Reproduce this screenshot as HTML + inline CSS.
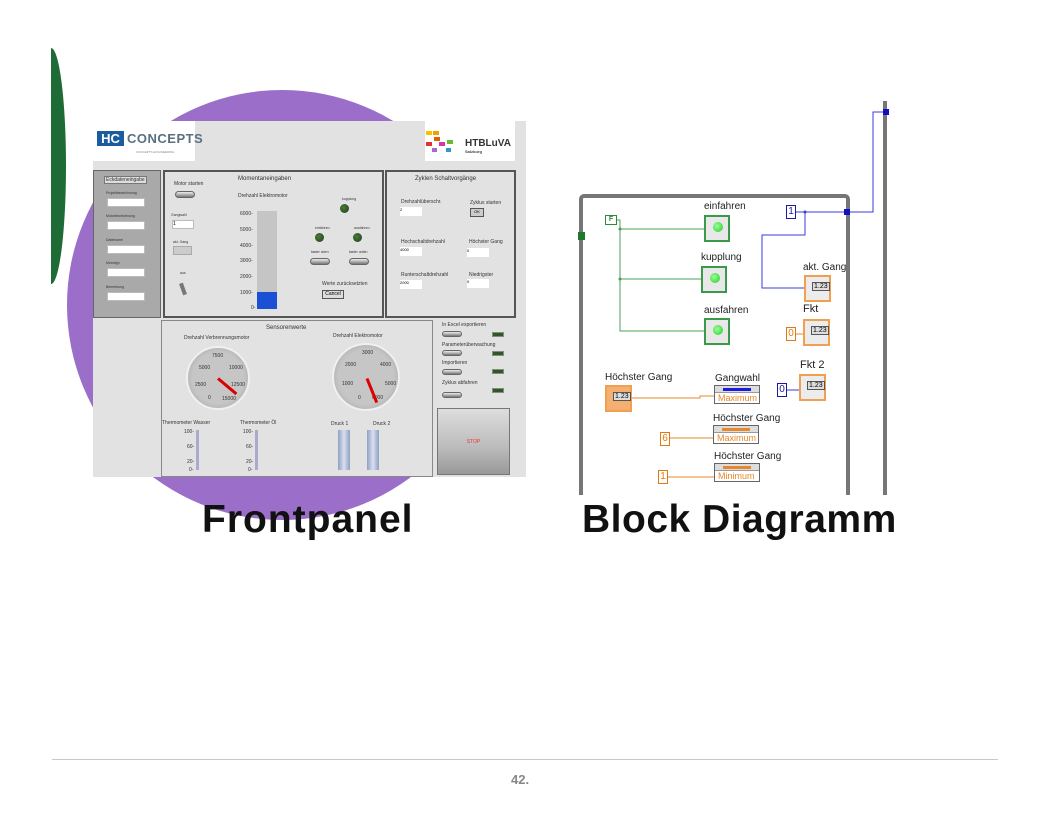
<!DOCTYPE html>
<html><head><meta charset="utf-8"><style>
*{margin:0;padding:0;box-sizing:border-box}
body{width:1056px;height:816px;background:#fff;position:relative;overflow:hidden;font-family:"Liberation Sans",sans-serif}
.a{position:absolute}
.t{position:absolute;font-size:5px;color:#333;white-space:nowrap}
.in{position:absolute;background:#fff;border:1px solid #bbb}
.sw{position:absolute;width:20px;height:7px;border-radius:4px;background:linear-gradient(#eee,#777);border:1px solid #666}
.led{position:absolute;width:9px;height:9px;border-radius:50%;background:radial-gradient(circle at 40% 40%,#4a7a3a,#1e3d16)}
.gl{position:absolute;width:12px;height:5px;background:#2c5a22;border:1px solid #888}
.bd{position:absolute;font-size:10px;color:#222;white-space:nowrap}
.gn{position:absolute;border:2px solid #3a9a4a;background:#e8e8e8;width:26px;height:27px}
.gn:after{content:"";position:absolute;left:7px;top:5px;width:10px;height:10px;border-radius:50%;background:radial-gradient(circle at 40% 40%,#9f9,#2c2)}
.on{position:absolute;border:2px solid #f0a050;background:#ececec;width:27px;height:27px}
.on:after{content:"1.23";position:absolute;left:6px;top:5px;font-size:7px;border:1px solid #555;padding:0 1px;background:#ddd}
.oc{position:absolute;border:1.5px solid #e07a10;color:#e07a10;font-size:10px;width:10px;height:14px;text-align:center;line-height:12px;background:#fff}
.bc{position:absolute;border:1.5px solid #1a1aa0;color:#1a1aa0;font-size:10px;width:10px;height:14px;text-align:center;line-height:12px;background:#fff}
.pb{position:absolute;width:46px;height:19px;border:1px solid #666;background:#fff}
.pb .h{height:7px;background:#ddd;border-bottom:1px solid #999;position:relative}
.pb .h i{position:absolute;left:8px;right:8px;top:2px;height:3px}
.pb .m{font-size:9px;color:#e8882a;padding-left:3px;line-height:11px}
</style></head><body>
<div class="a" style="left:51px;top:48px;width:15px;height:236px;background:#1f6b35;border-radius:0 100% 100% 0/0 50% 50% 0"></div>
<div class="a" style="left:67px;top:90px;width:430px;height:430px;border-radius:50%;background:#9b6fc9"></div>
<div class="a" style="left:93px;top:121px;width:433px;height:356px;background:#e2e2e2"></div>
<div class="a" style="left:93px;top:121px;width:102px;height:40px;background:#fff"></div>
<div class="a" style="left:97px;top:131px;width:27px;height:15px;background:#1a5c9e;color:#fff;font-weight:bold;font-size:13px;line-height:15px;text-align:center">HC</div>
<div class="a" style="left:127px;top:131px;font-size:13px;font-weight:bold;color:#5a6f80;letter-spacing:0.5px">CONCEPTS</div>
<div class="a" style="left:136px;top:150px;font-size:3px;color:#888">CONCEPTS ENGINEERING</div>
<div class="a" style="left:425px;top:121px;width:90px;height:40px;background:#fff"></div>
<div class="a" style="left:426px;top:131px;width:6px;height:4px;background:#f5c400"></div>
<div class="a" style="left:433px;top:131px;width:6px;height:4px;background:#f5a000"></div>
<div class="a" style="left:434px;top:137px;width:6px;height:4px;background:#e06000"></div>
<div class="a" style="left:426px;top:142px;width:6px;height:4px;background:#d33"></div>
<div class="a" style="left:439px;top:142px;width:6px;height:4px;background:#d3a"></div>
<div class="a" style="left:447px;top:140px;width:6px;height:4px;background:#6b3"></div>
<div class="a" style="left:432px;top:148px;width:5px;height:4px;background:#a6c"></div>
<div class="a" style="left:446px;top:148px;width:5px;height:4px;background:#39c"></div>
<div class="a" style="left:465px;top:138px;font-size:10px;font-weight:bold;color:#333">HTBLuVA</div>
<div class="a" style="left:465px;top:149px;font-size:4px;font-weight:bold;color:#444">Salzburg</div>
<div class="a" style="left:93px;top:170px;width:68px;height:148px;background:#a9a9a9;border:1px solid #666"></div>
<div class="t" style="left:104px;top:176px;background:#ddd;border:1px solid #777;padding:0 1px">Eckdateneingabe</div>
<div class="t" style="left:106px;top:191px;font-size:3.5px">Projektbezeichnung</div><div class="in" style="left:107px;top:198px;width:38px;height:9px"></div>
<div class="t" style="left:106px;top:214px;font-size:3.5px">Motorbezeichnung</div><div class="in" style="left:107px;top:221px;width:38px;height:9px"></div>
<div class="t" style="left:106px;top:238px;font-size:3.5px">Dateiname</div><div class="in" style="left:107px;top:245px;width:38px;height:9px"></div>
<div class="t" style="left:106px;top:261px;font-size:3.5px">Motortyp</div><div class="in" style="left:107px;top:268px;width:38px;height:9px"></div>
<div class="t" style="left:106px;top:285px;font-size:3.5px">Bemerkung</div><div class="in" style="left:107px;top:292px;width:38px;height:9px"></div>
<div class="a" style="left:163px;top:170px;width:221px;height:148px;border:2px solid #555"></div>
<div class="t" style="left:238px;top:176px;font-size:6px">Momentaneingaben</div>
<div class="t" style="left:174px;top:181px">Motor starten</div>
<div class="sw" style="left:175px;top:191px"></div>
<div class="t" style="left:238px;top:193px">Drehzahl Elektromotor</div>
<div class="t" style="left:171px;top:213px;font-size:3.5px">Gangwahl</div><div class="in" style="left:172px;top:220px;width:22px;height:9px;font-size:5px">1</div>
<div class="t" style="left:173px;top:240px;font-size:3.5px">akt. Gang</div><div class="a" style="left:173px;top:246px;width:19px;height:9px;background:#ccc;border:1px solid #aaa"></div>
<div class="t" style="left:180px;top:271px;font-size:3.5px">aus</div>
<div class="a" style="left:181px;top:283px;width:4px;height:12px;background:#777;transform:rotate(-20deg)"></div>
<div class="t" style="left:240px;top:211px">6000-</div><div class="t" style="left:240px;top:227px">5000-</div><div class="t" style="left:240px;top:243px">4000-</div><div class="t" style="left:240px;top:258px">3000-</div><div class="t" style="left:240px;top:274px">2000-</div><div class="t" style="left:240px;top:290px">1000-</div><div class="t" style="left:251px;top:305px">0-</div>
<div class="a" style="left:257px;top:211px;width:20px;height:97px;background:#c5c5c5"></div>
<div class="a" style="left:257px;top:292px;width:20px;height:17px;background:#1a4fd6"></div>
<div class="t" style="left:342px;top:197px;font-size:3.5px">kupplung</div><div class="led" style="left:340px;top:204px"></div>
<div class="t" style="left:315px;top:226px;font-size:3.5px">einfahren</div><div class="led" style="left:315px;top:233px"></div>
<div class="t" style="left:354px;top:226px;font-size:3.5px">ausfahren</div><div class="led" style="left:353px;top:233px"></div>
<div class="t" style="left:311px;top:250px;font-size:3.5px">taster oben</div><div class="sw" style="left:310px;top:258px"></div>
<div class="t" style="left:349px;top:250px;font-size:3.5px">taster unten</div><div class="sw" style="left:349px;top:258px"></div>
<div class="t" style="left:322px;top:281px">Werte zurücksetzten</div>
<div class="a" style="left:322px;top:290px;width:22px;height:9px;background:#ddd;border:1px solid #555;font-size:5px;text-align:center">Cancel</div>
<div class="a" style="left:385px;top:170px;width:131px;height:148px;border:2px solid #555"></div>
<div class="t" style="left:415px;top:176px;font-size:6px">Zyklen Schaltvorgänge</div>
<div class="t" style="left:401px;top:199px">Drehzahlüberschr.</div><div class="in" style="left:400px;top:207px;width:22px;height:9px;border:none;font-size:4px">2</div>
<div class="t" style="left:470px;top:200px">Zyklus starten</div>
<div class="a" style="left:470px;top:208px;width:14px;height:9px;background:#ccc;border:1px solid #555;font-size:4px;text-align:center">OK</div>
<div class="t" style="left:401px;top:239px">Hochschaltdrehzahl</div><div class="in" style="left:400px;top:247px;width:22px;height:9px;border:none;font-size:4px">4000</div>
<div class="t" style="left:469px;top:239px">Höchster Gang</div><div class="in" style="left:467px;top:248px;width:22px;height:9px;border:none;font-size:4px">0</div>
<div class="t" style="left:401px;top:272px">Runterschaltdrehzahl</div><div class="in" style="left:400px;top:280px;width:22px;height:9px;border:none;font-size:4px">2000</div>
<div class="t" style="left:469px;top:272px">Niedrigster</div><div class="in" style="left:467px;top:279px;width:22px;height:9px;border:none;font-size:4px">0</div>
<div class="a" style="left:161px;top:320px;width:272px;height:157px;border:1px solid #888"></div>
<div class="t" style="left:266px;top:325px;font-size:6px">Sensorenwerte</div>
<div class="t" style="left:184px;top:335px">Drehzahl Verbrennungsmotor</div>
<div class="t" style="left:333px;top:333px">Drehzahl Elektromotor</div>
<div class="a" style="left:186px;top:346px;width:64px;height:64px;border-radius:50%;background:radial-gradient(#c6c6c6 60%,#9a9a9a);border:2px solid #f0f0f0"></div>
<div class="a" style="left:332px;top:343px;width:68px;height:68px;border-radius:50%;background:radial-gradient(#c6c6c6 60%,#9a9a9a);border:2px solid #f0f0f0"></div>
<div class="t" style="left:212px;top:353px">7500</div><div class="t" style="left:199px;top:365px">5000</div><div class="t" style="left:229px;top:365px">10000</div><div class="t" style="left:195px;top:382px">2500</div><div class="t" style="left:231px;top:382px">12500</div><div class="t" style="left:208px;top:395px">0</div><div class="t" style="left:222px;top:396px">15000</div>
<div class="t" style="left:362px;top:350px">3000</div><div class="t" style="left:345px;top:362px">2000</div><div class="t" style="left:380px;top:362px">4000</div><div class="t" style="left:342px;top:381px">1000</div><div class="t" style="left:385px;top:381px">5000</div><div class="t" style="left:358px;top:395px">0</div><div class="t" style="left:372px;top:395px">6000</div>
<div class="a" style="left:218px;top:377px;width:24px;height:3px;background:#d00;transform-origin:0 50%;transform:rotate(40deg)"></div>
<div class="a" style="left:367px;top:377px;width:26px;height:3px;background:#d00;transform-origin:0 50%;transform:rotate(68deg)"></div>
<div class="t" style="left:162px;top:420px">Thermometer Wasser</div><div class="t" style="left:240px;top:420px">Thermometer Öl</div>
<div class="t" style="left:331px;top:421px">Druck 1</div><div class="t" style="left:373px;top:421px">Druck 2</div>
<div class="t" style="left:184px;top:429px">100-</div><div class="t" style="left:187px;top:444px">60-</div><div class="t" style="left:187px;top:459px">20-</div><div class="t" style="left:189px;top:467px">0-</div>
<div class="a" style="left:196px;top:430px;width:3px;height:40px;background:#aac"></div>
<div class="t" style="left:243px;top:429px">100-</div><div class="t" style="left:246px;top:444px">60-</div><div class="t" style="left:246px;top:459px">20-</div><div class="t" style="left:248px;top:467px">0-</div>
<div class="a" style="left:255px;top:430px;width:3px;height:40px;background:#aac"></div>
<div class="a" style="left:338px;top:430px;width:12px;height:40px;background:linear-gradient(90deg,#8fa0c0,#d8dff0,#8fa0c0)"></div>
<div class="a" style="left:367px;top:430px;width:12px;height:40px;background:linear-gradient(90deg,#8fa0c0,#d8dff0,#8fa0c0)"></div>
<div class="t" style="left:442px;top:322px">In Excel exportieren</div><div class="sw" style="left:442px;top:331px;height:6px"></div><div class="gl" style="left:492px;top:332px"></div>
<div class="t" style="left:442px;top:342px">Parameterüberwachung</div><div class="sw" style="left:442px;top:350px;height:6px"></div><div class="gl" style="left:492px;top:351px"></div>
<div class="t" style="left:442px;top:360px">Importieren</div><div class="sw" style="left:442px;top:369px;height:6px"></div><div class="gl" style="left:492px;top:369px"></div>
<div class="t" style="left:442px;top:380px">Zyklus abfahren</div><div class="sw" style="left:442px;top:392px;height:6px"></div><div class="gl" style="left:492px;top:388px"></div>
<div class="a" style="left:437px;top:408px;width:73px;height:67px;background:linear-gradient(#ddd,#bbb 60%,#999);border:1px solid #777;color:#e33;font-size:5px;text-align:center;line-height:67px">STOP</div>

<div class="a" style="left:579px;top:194px;width:271px;height:320px;border:4px solid #767676;border-radius:5px"></div>
<div class="a" style="left:579px;top:495px;width:320px;height:30px;background:#fff"></div>
<div class="a" style="left:883px;top:101px;width:4px;height:394px;background:#767676"></div>
<div class="a" style="left:578px;top:232px;width:7px;height:8px;background:#1b7a2b"></div>
<div class="a" style="left:605px;top:215px;width:12px;height:10px;border:1.5px solid #2a8a3a;font-size:7px;color:#2a8a3a;text-align:center;line-height:7px;font-weight:bold">F</div>
<svg class="a" style="left:0;top:0" width="1056" height="816">
<g stroke="#4aa05a" fill="none" stroke-width="1">
<path d="M617 220H620V331H705M620 229H705M620 279H702"/></g>
<g fill="#4aa05a"><circle cx="620" cy="229" r="1.5"/><circle cx="620" cy="279" r="1.5"/></g>
<g stroke="#3a3ae0" fill="none" stroke-width="1">
<path d="M795 212H873V112H886M805 212V235H762V288H805"/></g>
<circle cx="805" cy="212" r="1.5" fill="#3a3ae0"/>
<rect x="844" y="209" width="6" height="6" fill="#1010c0"/>
<rect x="883" y="109" width="6" height="6" fill="#1010c0"/>
<g stroke="#e8882a" fill="none" stroke-width="1">
<path d="M632 398H700V396H714M669 438H714M667 477H714M795 334H804"/></g>
<path d="M786 390H799" stroke="#3a3ae0"/>
</svg>
<div class="bd" style="left:704px;top:201px">einfahren</div><div class="gn" style="left:704px;top:215px"></div>
<div class="bd" style="left:701px;top:252px">kupplung</div><div class="gn" style="left:701px;top:266px"></div>
<div class="bd" style="left:704px;top:305px">ausfahren</div><div class="gn" style="left:704px;top:318px"></div>
<div class="bc" style="left:786px;top:205px">1</div>
<div class="bd" style="left:803px;top:262px">akt. Gang</div><div class="on" style="left:804px;top:275px"></div>
<div class="bd" style="left:803px;top:303px;font-size:11px">Fkt</div><div class="on" style="left:803px;top:319px"></div>
<div class="oc" style="left:786px;top:327px">0</div>
<div class="bd" style="left:800px;top:359px;font-size:11px">Fkt 2</div><div class="on" style="left:799px;top:374px"></div>
<div class="bc" style="left:777px;top:383px">0</div>
<div class="bd" style="left:605px;top:372px">Höchster Gang</div>
<div class="on" style="left:605px;top:385px;background:#f4b070"></div>
<div class="bd" style="left:715px;top:373px">Gangwahl</div>
<div class="pb" style="left:714px;top:385px"><div class="h"><i style="background:#1a1ae0"></i></div><div class="m">Maximum</div></div>
<div class="bd" style="left:713px;top:413px">Höchster Gang</div>
<div class="pb" style="left:713px;top:425px"><div class="h"><i style="background:#e8882a"></i></div><div class="m">Maximum</div></div>
<div class="oc" style="left:660px;top:432px">6</div>
<div class="bd" style="left:714px;top:451px">Höchster Gang</div>
<div class="pb" style="left:714px;top:463px"><div class="h"><i style="background:#e8882a"></i></div><div class="m">Minimum</div></div>
<div class="oc" style="left:658px;top:470px">1</div>

<div class="a" style="left:202px;top:498px;font-size:39px;font-weight:900;color:#111;letter-spacing:1px">Frontpanel</div>
<div class="a" style="left:582px;top:498px;font-size:39px;font-weight:900;color:#111;letter-spacing:0.5px">Block Diagramm</div>
<div class="a" style="left:52px;top:759px;width:946px;height:1px;background:#c8c8c8"></div>
<div class="a" style="left:511px;top:772px;font-size:13px;font-weight:bold;color:#888">42.</div>
</body></html>
